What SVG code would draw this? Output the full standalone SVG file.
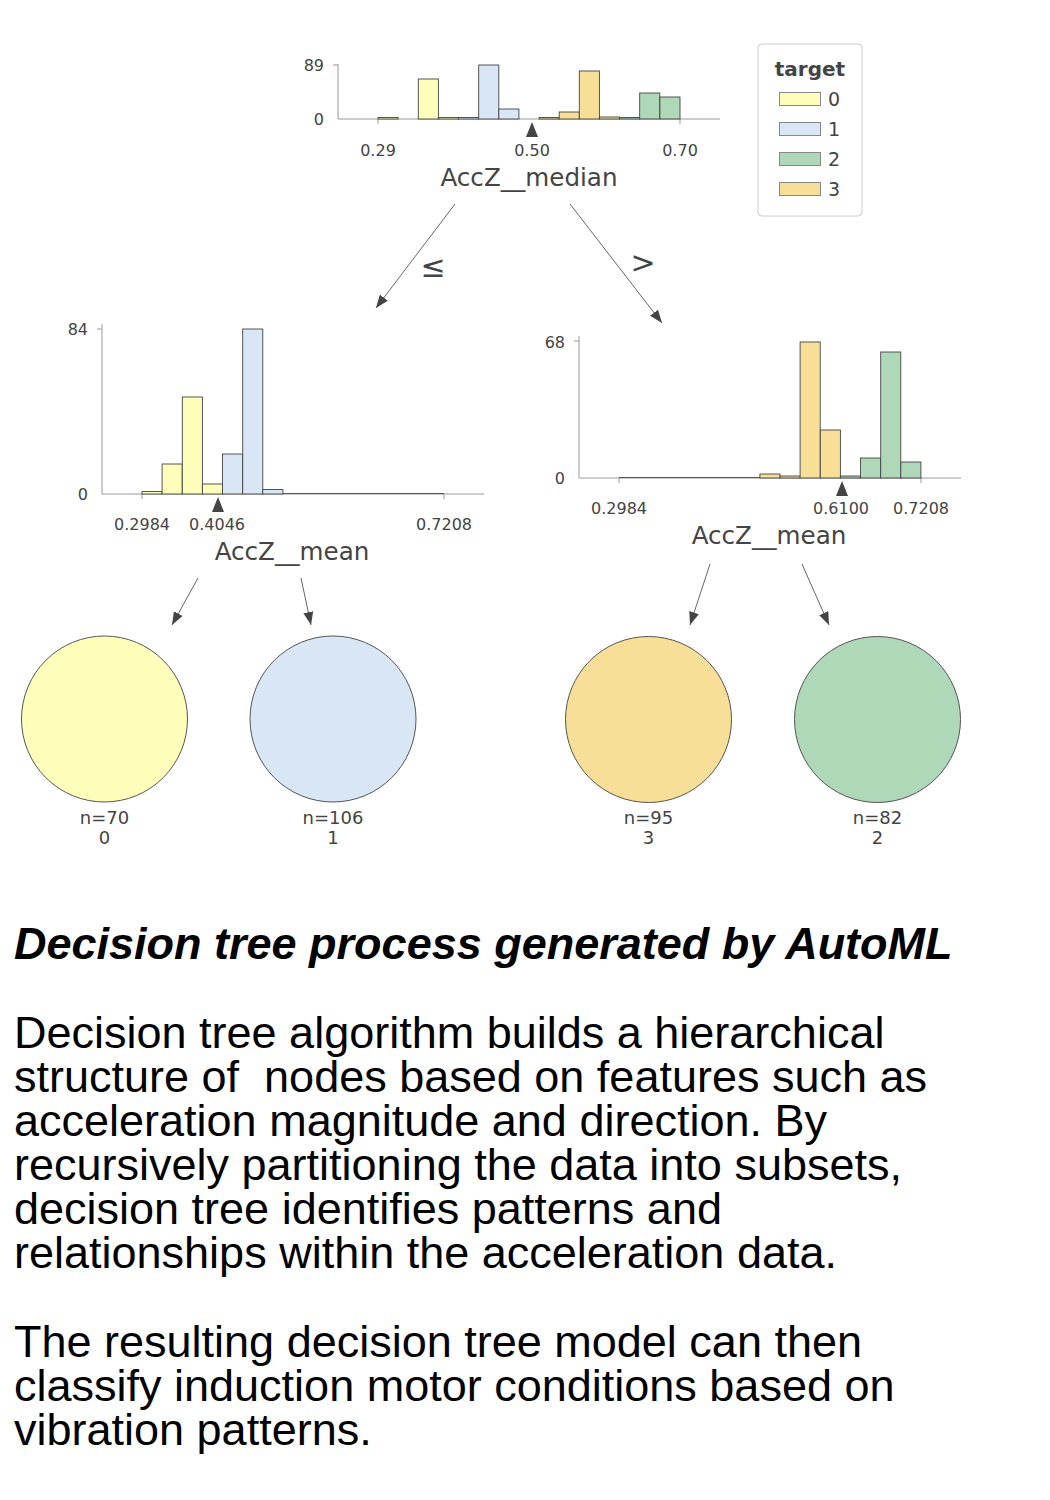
<svg xmlns="http://www.w3.org/2000/svg" width="1050" height="1500" viewBox="0 0 1050 1500">
<style>
.ax{stroke:#999;stroke-width:1;fill:none}
.tk{stroke:#999;stroke-width:1}
.b{stroke:#444;stroke-width:0.9}
.c0{fill:#fefebb}.c1{fill:#d9e6f5}.c2{fill:#aed8b7}.c3{fill:#f8df98}
.t{font-family:"DejaVu Sans",sans-serif;fill:#444}
.tick{font-size:16px;text-anchor:middle}
.yl{font-size:16px;text-anchor:end}
.feat{font-size:24.6px;text-anchor:middle}
.leaf{stroke:#555;stroke-width:1}
.lt{font-size:18px;text-anchor:middle}
.con{stroke:#666;stroke-width:1;fill:none;marker-end:url(#ah)}
.op{font-size:30px;text-anchor:middle}
.body{font-family:"Liberation Sans",Arial,sans-serif;font-size:45px;fill:#000}
</style>
<defs>
<marker id="ah" markerUnits="userSpaceOnUse" markerWidth="14" markerHeight="12" refX="13" refY="5" orient="auto">
<path d="M0,0 L13,5 L0,10 Z" fill="#444"/>
</marker>
</defs>
<rect width="1050" height="1500" fill="#fff"/>

<g id="root">
<line class="ax" x1="338" y1="64" x2="338" y2="119"/>
<line class="ax" x1="338" y1="119" x2="720" y2="119"/>
<line class="tk" x1="333" y1="65" x2="338" y2="65"/>
<line class="tk" x1="378" y1="119" x2="378" y2="124"/>
<line class="tk" x1="680" y1="119" x2="680" y2="124"/>
<rect class="b c0" x="378" y="117.5" width="20.1" height="1.5"/>
<rect class="b c0" x="418.3" y="79" width="20.1" height="40"/>
<rect class="b c0" x="438.4" y="117.5" width="20.1" height="1.5"/>
<rect class="b c1" x="458.5" y="117.5" width="20.1" height="1.5"/>
<rect class="b c1" x="478.7" y="65" width="20.1" height="54"/>
<rect class="b c1" x="498.8" y="109" width="20.1" height="10"/>
<rect class="b c3" x="539.1" y="117.5" width="20.1" height="1.5"/>
<rect class="b c3" x="559.2" y="112" width="20.1" height="7"/>
<rect class="b c3" x="579.3" y="71" width="20.1" height="48"/>
<rect class="b c3" x="599.5" y="117" width="20.1" height="2"/>
<rect class="b c2" x="619.6" y="117.5" width="20.1" height="1.5"/>
<rect class="b c2" x="639.7" y="93" width="20.1" height="26"/>
<rect class="b c2" x="659.9" y="97" width="20.1" height="22"/>
<path d="M532,122 L538,137 L526,137 Z" fill="#444"/>
<text class="t yl" x="324" y="71">89</text>
<text class="t yl" x="324" y="125">0</text>
<text class="t tick" x="378" y="156">0.29</text>
<text class="t tick" x="532" y="156">0.50</text>
<text class="t tick" x="680" y="156">0.70</text>
<text class="t feat" x="529" y="186">AccZ__median</text>
</g>

<g id="legend">
<rect x="758" y="44" width="104" height="172" rx="4" fill="#fff" stroke="#ccc" stroke-width="1"/>
<text class="t" x="810" y="76" font-size="20" font-weight="bold" text-anchor="middle">target</text>
<rect class="c0" x="779.5" y="92.5" width="41" height="13" stroke="#888"/>
<rect class="c1" x="779.5" y="122.5" width="41" height="13" stroke="#888"/>
<rect class="c2" x="779.5" y="152.5" width="41" height="13" stroke="#888"/>
<rect class="c3" x="779.5" y="182.5" width="41" height="13" stroke="#888"/>
<text class="t" x="828" y="106" font-size="19">0</text>
<text class="t" x="828" y="136" font-size="19">1</text>
<text class="t" x="828" y="166" font-size="19">2</text>
<text class="t" x="828" y="196" font-size="19">3</text>
</g>

<g id="left_split">
<line class="ax" x1="102" y1="324" x2="102" y2="494"/>
<line class="ax" x1="102" y1="494" x2="484" y2="494"/>
<line class="tk" x1="97" y1="329" x2="102" y2="329"/>
<line class="tk" x1="142" y1="494" x2="142" y2="499"/>
<line class="tk" x1="444" y1="494" x2="444" y2="499"/>
<line x1="282" y1="493.5" x2="444" y2="493.5" stroke="#555" stroke-width="1"/>
<rect class="b c0" x="142" y="491.5" width="20.1" height="2.5"/>
<rect class="b c0" x="162.1" y="464" width="20.1" height="30"/>
<rect class="b c0" x="182.3" y="397" width="20.1" height="97"/>
<rect class="b c0" x="202.4" y="484" width="20.1" height="10"/>
<rect class="b c1" x="222.5" y="454" width="20.1" height="40"/>
<rect class="b c1" x="242.7" y="329" width="20.1" height="165"/>
<rect class="b c1" x="262.8" y="489.5" width="20.1" height="4.5"/>
<path d="M218,497 L224,512 L212,512 Z" fill="#444"/>
<text class="t yl" x="88" y="335">84</text>
<text class="t yl" x="88" y="500">0</text>
<text class="t tick" x="142" y="530">0.2984</text>
<text class="t tick" x="217" y="530">0.4046</text>
<text class="t tick" x="444" y="530">0.7208</text>
<text class="t feat" x="292" y="560">AccZ__mean</text>
</g>

<g id="right_split">
<line class="ax" x1="579" y1="336" x2="579" y2="478"/>
<line class="ax" x1="579" y1="478" x2="961" y2="478"/>
<line class="tk" x1="574" y1="341" x2="579" y2="341"/>
<line class="tk" x1="619" y1="478" x2="619" y2="483"/>
<line class="tk" x1="921" y1="478" x2="921" y2="483"/>
<line x1="619" y1="477.5" x2="760" y2="477.5" stroke="#555" stroke-width="1"/>
<rect class="b c3" x="759.9" y="474" width="20.1" height="4"/>
<rect class="b c3" x="780" y="476" width="20.1" height="2"/>
<rect class="b c3" x="800.1" y="342" width="20.1" height="136"/>
<rect class="b c3" x="820.3" y="430" width="20.1" height="48"/>
<rect class="b c2" x="840.4" y="476" width="20.1" height="2"/>
<rect class="b c2" x="860.5" y="458" width="20.1" height="20"/>
<rect class="b c2" x="880.7" y="352" width="20.1" height="126"/>
<rect class="b c2" x="900.8" y="462" width="20.1" height="16"/>
<path d="M842,481 L848,496 L836,496 Z" fill="#444"/>
<text class="t yl" x="565" y="348">68</text>
<text class="t yl" x="565" y="484">0</text>
<text class="t tick" x="619" y="514">0.2984</text>
<text class="t tick" x="841" y="514">0.6100</text>
<text class="t tick" x="921" y="514">0.7208</text>
<text class="t feat" x="769" y="544">AccZ__mean</text>
</g>

<g id="leaf0">
<circle class="leaf c0" cx="104.5" cy="719" r="83"/>
<text class="t lt" x="104.5" y="824">n=70</text>
<text class="t lt" x="104.5" y="844">0</text>
</g>
<g id="leaf1">
<circle class="leaf c1" cx="333" cy="719" r="83"/>
<text class="t lt" x="333" y="824">n=106</text>
<text class="t lt" x="333" y="844">1</text>
</g>
<g id="leaf3">
<circle class="leaf c3" cx="648.5" cy="719.5" r="83"/>
<text class="t lt" x="648.5" y="824">n=95</text>
<text class="t lt" x="648.5" y="844">3</text>
</g>
<g id="leaf2">
<circle class="leaf c2" cx="877.5" cy="719.5" r="83"/>
<text class="t lt" x="877.5" y="824">n=82</text>
<text class="t lt" x="877.5" y="844">2</text>
</g>

<g id="connectors">
<line class="con" x1="455" y1="204" x2="376" y2="308"/>
<line class="con" x1="570" y1="204" x2="662" y2="323"/>
<line class="con" x1="198" y1="578" x2="172" y2="625"/>
<line class="con" x1="301" y1="578" x2="311" y2="625"/>
<line class="con" x1="710" y1="564" x2="690" y2="625"/>
<line class="con" x1="802" y1="564" x2="829" y2="625"/>
<text class="t op" x="433" y="277">≤</text>
<text class="t op" x="643" y="273">&gt;</text>
</g>

<g id="caption">
<text class="body" x="14" y="959" font-weight="bold" font-style="italic">Decision tree process generated by AutoML</text>
<text class="body" x="14" y="1048">Decision tree algorithm builds a hierarchical</text>
<text class="body" x="14" y="1092">structure of&#160; nodes based on features such as</text>
<text class="body" x="14" y="1136">acceleration magnitude and direction. By</text>
<text class="body" x="14" y="1180">recursively partitioning the data into subsets,</text>
<text class="body" x="14" y="1224">decision tree identifies patterns and</text>
<text class="body" x="14" y="1268">relationships within the acceleration data.</text>
<text class="body" x="14" y="1357">The resulting decision tree model can then</text>
<text class="body" x="14" y="1401">classify induction motor conditions based on</text>
<text class="body" x="14" y="1445">vibration patterns.</text>
</g>
</svg>
